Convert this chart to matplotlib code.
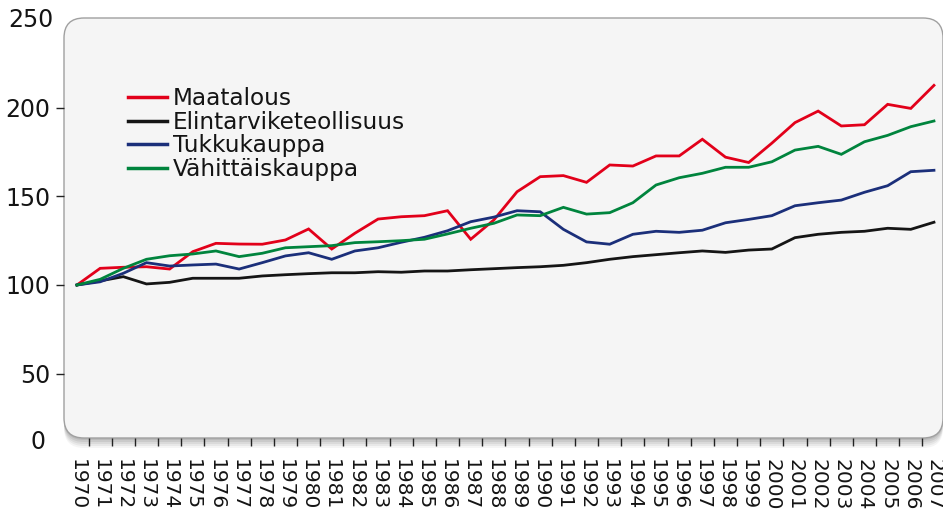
import matplotlib
matplotlib.use("Agg")
import matplotlib.pyplot as plt
from matplotlib.patches import FancyBboxPatch
import numpy as np

# data
years = list(range(1970, 2008))

maatalous = [100, 109.4, 110, 110.3, 109, 118.8, 123.5, 123.1, 123, 125.4,
             131.6, 120.3, 129.2, 137.2, 138.5, 139.1, 141.9, 125.8, 136.7, 152.6,
             161.1, 161.7, 157.9, 167.7, 167.1, 172.8, 172.8, 182.2, 172.1, 169.1,
             180, 191.6, 198.1, 189.7, 190.4, 201.9, 199.6, 212.6]
elintarvike = [100, 102.3, 104.7, 100.6, 101.5, 103.8, 103.8, 103.8, 105.1, 105.8,
               106.4, 106.9, 106.9, 107.5, 107.2, 107.9, 107.9, 108.6, 109.2, 109.8,
               110.3, 111.1, 112.6, 114.5, 116, 117.1, 118.2, 119.2, 118.4, 119.7,
               120.3, 126.7, 128.6, 129.7, 130.3, 132, 131.4, 135.4]
tukku = [100, 101.8, 106.6, 112.6, 110.7, 111.3, 111.8, 109, 112.6, 116.4,
         118.2, 114.5, 119.2, 121, 124.1, 126.9, 130.6, 135.7, 138.3, 141.9,
         141.3, 131.4, 124.3, 123, 128.6, 130.3, 129.7, 130.9, 135.1, 137,
         139.1, 144.7, 146.4, 147.9, 152.3, 156, 163.9, 164.7]
vahittais = [100, 103.2, 109.4, 114.5, 116.5, 117.5, 119.2, 116, 117.9, 121,
             121.6, 122.2, 123.9, 124.4, 125, 125.8, 128.8, 132, 134.8, 139.5,
             139.1, 143.8, 140, 140.8, 146.4, 156.4, 160.5, 163, 166.4, 166.4,
             169.5, 176.1, 178.2, 173.7, 180.8, 184.4, 189.3, 192.5]

series_names = ["Maatalous", "Elintarviketeollisuus", "Tukkukauppa", "Vähittäiskauppa"]
series_vals = [maatalous, elintarvike, tukku, vahittais]
colors = ["#e2001a", "#151515", "#1b2f7a", "#00843d"]

plt.rcParams['font.family'] = ['DejaVu Sans']
txt = "#141414"

W, H = 943, 511
fig = plt.figure(figsize=(W / 100, H / 100), dpi=100)

left, bottom, right, top = 64, 438, 943, 18
ax = fig.add_axes([left / W, 1 - bottom / H, (right - left) / W, (bottom - top) / H])
ax.patch.set_visible(False)
for s in ax.spines.values():
    s.set_visible(False)

# rounded background box with a soft shadow below
for i, a in enumerate([0.04, 0.05, 0.06, 0.07, 0.08]):
    off = (10 - 2 * i)
    sh = FancyBboxPatch((left / W, 1 - (bottom + off) / H), (right - left) / W, (bottom - top) / H,
                        boxstyle="round,pad=0,rounding_size=%f" % (20 / W),
                        mutation_aspect=W / H, transform=fig.transFigure,
                        facecolor="#000000", alpha=a, edgecolor="none", zorder=-3)
    fig.patches.append(sh)
box = FancyBboxPatch((left / W, 1 - bottom / H), (right - left) / W, (bottom - top) / H,
                     boxstyle="round,pad=0,rounding_size=%f" % (20 / W),
                     mutation_aspect=W / H, transform=fig.transFigure,
                     facecolor="#f5f5f5", edgecolor="#a0a0a0", linewidth=1, zorder=-1)
fig.patches.append(box)

for name, vals, c in zip(series_names, series_vals, colors):
    ax.plot(years, vals, color=c, linewidth=2.0, label=name, solid_joinstyle="miter")

ax.set_xlim(1969.44, 2007.39)
ax.set_ylim(13.7, 250.6)

ax.set_xticks(years)
ax.set_xticklabels([str(y) for y in years], rotation=270, fontsize=14.5, color=txt)
ax.tick_params(axis="x", which="major", length=0, pad=15)
ax.set_xticks([y + 0.5 for y in years[:-1]], minor=True)
ax.tick_params(axis="x", which="minor", length=6, width=1, color="#222222", direction="out")

ax.set_yticks([50, 100, 150, 200])
ax.set_yticklabels(["50", "100", "150", "200"], fontsize=17, color=txt)
ax.tick_params(axis="y", length=6, width=1, color="#222222", pad=4)

fig.text(53 / W, 1 - 20 / H, "250", ha="right", va="center", fontsize=17, color=txt)
fig.text(46 / W, 1 - 442 / H, "0", ha="right", va="center", fontsize=17, color=txt)

leg = ax.legend(loc="upper left", bbox_to_anchor=(128 / W, 1 - 87 / H),
                bbox_transform=fig.transFigure, frameon=False, fontsize=16.7,
                handlelength=1.7, handletextpad=0.25, labelspacing=0.03,
                borderpad=0, borderaxespad=0)
for t in leg.get_texts():
    t.set_color(txt)
for l in leg.get_lines():
    l.set_linewidth(2.5)

fig.savefig("out.png", dpi=100)
